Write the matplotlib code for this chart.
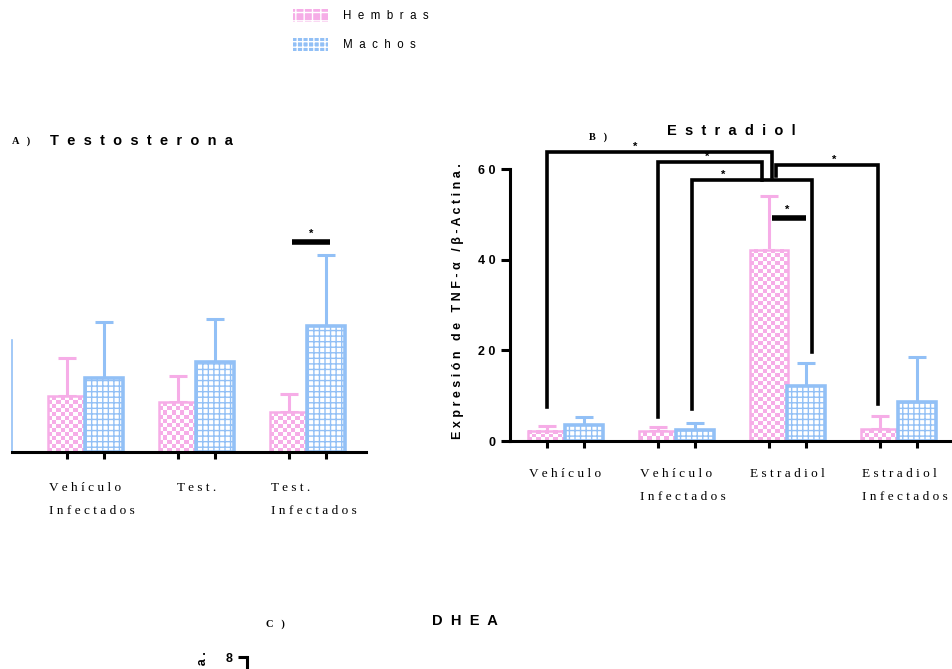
import numpy as np
import matplotlib.pyplot as plt
from matplotlib.colors import ListedColormap
from matplotlib.patches import Patch

plt.rcParams['hatch.linewidth'] = 1.0

rosa = '#F6ADE7'
azul = '#92C0F6'
sans = 'Liberation Sans'
serif = 'Liberation Serif'

# A) Testosterona
grupos_a = ['Vehículo\nInfectados', 'Test.', 'Test.\nInfectados']
hembras_a = [5.6, 5.0, 4.0]
hembras_a_err = [3.8, 2.6, 1.8]
machos_a = [7.4, 9.0, 12.6]
machos_a_err = [5.6, 4.3, 7.1]
barra_a = (1.86, 2.2, 21.0)  # x1, x2, y

# B) Estradiol
grupos_b = ['Vehículo', 'Vehículo\nInfectados', 'Estradiol', 'Estradiol\nInfectados']
hembras_b = [2.3, 2.1, 42.2, 2.6]
hembras_b_err = [1.0, 0.9, 11.8, 2.9]
machos_b = [3.5, 2.4, 12.1, 8.5]
machos_b_err = [1.7, 1.5, 5.1, 10.1]
ticks_b = [0, 20, 40, 60]
# llaves: x izq, y izq, x der, y der, altura, x del asterisco
llaves_b = [
    (-0.167, 7.5, 1.86, 58.3, 63.8, 0.63),
    (0.833, 5.3, 1.77, 57.6, 61.6, 1.28),
    (1.14, 7.1, 2.22, 19.6, 57.6, 1.42),
    (1.90, 58.5, 2.815, 8.2, 60.9, 2.42),
]
barra_b = (1.86, 2.17, 49.2)

# C) DHEA
ticks_c = [0, 2, 4, 6, 8]

etiqueta_y = 'Expresión de TNF-α /β-Actina.'


def esp(s, sep=' '):
    # separa las letras como en el original
    return '\n'.join(sep.join(linea) for linea in s.split('\n'))


def damero(ax, barras, cel=4):
    # cuadriculado rosa/blanco dentro de cada barra
    for b in barras:
        x0, w, h = b.get_x(), b.get_width(), b.get_height()
        (px0, py0), (px1, py1) = ax.transData.transform([(x0, 0), (x0 + w, h)])
        nx = max(1, int(round((px1 - px0) / cel)))
        ny = max(1, int(round((py1 - py0) / cel)))
        m = np.add.outer(np.arange(ny), np.arange(nx)) % 2
        ax.imshow(m, extent=(x0, x0 + w, 0, h), origin='lower',
                  cmap=ListedColormap([rosa, 'white']), interpolation='nearest',
                  aspect='auto', zorder=1.5)


def panel(ax, grupos, h, h_err, m, m_err, xlim, ylim, bajada):
    x = np.arange(len(grupos))
    ax.set_xlim(*xlim)
    ax.set_ylim(*ylim)
    ax.errorbar(x - 0.167, h, yerr=[np.zeros(len(h)), h_err], fmt='none',
                ecolor=rosa, elinewidth=2.2, capsize=6.5, capthick=2.2, zorder=1)
    ax.errorbar(x + 0.167, m, yerr=[np.zeros(len(m)), m_err], fmt='none',
                ecolor=azul, elinewidth=2.2, capsize=6.5, capthick=2.2, zorder=1)
    bh = ax.bar(x - 0.167, h, 0.34, facecolor='none', edgecolor=rosa, lw=1.8, zorder=2)
    ax.bar(x + 0.167, m, 0.34, facecolor='white', edgecolor=azul, hatch='+++',
           lw=2.6, zorder=2)
    damero(ax, bh)
    ax.set_xlim(*xlim)
    ax.set_ylim(*ylim)
    for s in ['top', 'right']:
        ax.spines[s].set_visible(False)
    ax.spines['bottom'].set_linewidth(2.2)
    ax.set_xticks(np.concatenate([x - 0.167, x + 0.167]))
    ax.set_xticklabels([])
    ax.tick_params(axis='x', length=5, width=2.2, direction='out')
    for i, g in enumerate(grupos):
        dx = 0.06 if '\n' in g else 0
        ax.annotate(esp(g), xy=(i + dx, 0), xytext=(0, -bajada),
                    textcoords='offset points', ha='center', va='top',
                    multialignment='left', family=serif, fontsize=9.5,
                    linespacing=2.25, annotation_clip=False)
    ax.patch.set_visible(False)


def eje_y(ax, ticks):
    ax.spines['left'].set_linewidth(2.2)
    ax.spines['left'].set_bounds(ticks[0], ticks[-1])
    ax.set_yticks(ticks)
    ax.set_yticklabels([esp(str(t)) for t in ticks], family=sans,
                       fontweight='bold', fontsize=9)
    ax.tick_params(axis='y', length=6.2, width=2.2, pad=4)


def llave(ax, x1, y1, x2, y2, top, xs):
    ax.plot([x1, x1, x2, x2], [y1, top, top, y2], color='black', lw=2.6,
            clip_on=False, solid_joinstyle='miter', zorder=4)
    ax.text(xs, top, '*', ha='center', va='bottom', fontsize=8,
            fontweight='bold', family=sans)


fig = plt.figure(figsize=(9.53, 6.69), dpi=100)
W, H = 953, 669

# A
ax_a = fig.add_axes([12 / W, (H - 452) / H, 354 / W, 240 / H])
panel(ax_a, grupos_a, hembras_a, hembras_a_err, machos_a, machos_a_err,
      (-0.662, 2.527), (0, 24), 21.5)
ax_a.spines['left'].set_color(azul)
ax_a.spines['left'].set_linewidth(1.2)
ax_a.spines['left'].set_bounds(0, 11.2)
ax_a.set_yticks([])
ax_a.plot([barra_a[0], barra_a[1]], [barra_a[2]] * 2, color='black', lw=4,
          solid_capstyle='butt', clip_on=False)
ax_a.text((barra_a[0] + barra_a[1]) / 2, barra_a[2] + 0.3, '*', ha='center',
          va='bottom', fontsize=8, fontweight='bold', family=sans)

# B
ax_b = fig.add_axes([510 / W, (H - 441) / H, 444 / W, 299 / H])
panel(ax_b, grupos_b, hembras_b, hembras_b_err, machos_b, machos_b_err,
      (-0.5, 3.5), (0, 66), 19.5)
eje_y(ax_b, ticks_b)
ax_b.text(-52 / 444, 30.8, esp(etiqueta_y), rotation=90, ha='center',
          va='center', family=sans, fontweight='bold', fontsize=9,
          transform=ax_b.get_yaxis_transform())
for x1, y1, x2, y2, top, xs in llaves_b:
    llave(ax_b, x1, y1, x2, y2, top, xs)
ax_b.plot([barra_b[0], barra_b[1]], [barra_b[2]] * 2, color='black', lw=4,
          solid_capstyle='butt', clip_on=False, zorder=4)
ax_b.text(2.0, barra_b[2] + 0.8, '*', ha='center', va='bottom', fontsize=8,
          fontweight='bold', family=sans)

# C (solo asoma la parte de arriba)
ax_c = fig.add_axes([247 / W, (H - 657) / H - 272 / H, 444 / W, 272 / H])
ax_c.set_ylim(0, 8)
ax_c.set_xlim(0, 1)
for s in ['top', 'right', 'bottom']:
    ax_c.spines[s].set_visible(False)
ax_c.set_xticks([])
eje_y(ax_c, ticks_c)
ax_c.text(-44 / 444, 4.1, esp(etiqueta_y), rotation=90, ha='center',
          va='center', family=sans, fontweight='bold', fontsize=9,
          transform=ax_c.get_yaxis_transform())
ax_c.patch.set_visible(False)

# titulos
fig.text(12 / W, 1 - 141 / H, esp('A )'), family=serif, fontweight='bold',
         fontsize=7.5, va='center')
fig.text(50 / W, 1 - 141 / H, esp('Testosterona', '  '), family=sans,
         fontweight='bold', fontsize=10.5, va='center')
fig.text(589 / W, 1 - 137 / H, esp('B )'), family=serif, fontweight='bold',
         fontsize=7.5, va='center')
fig.text(731 / W, 1 - 131 / H, esp('Estradiol', '  '), family=sans,
         fontweight='bold', fontsize=10.5, va='center', ha='center')
fig.text(266 / W, 1 - 624 / H, esp('C )'), family=serif, fontweight='bold',
         fontsize=7.5, va='center')
fig.text(465 / W, 1 - 621 / H, esp('DHEA', '  '), family=sans,
         fontweight='bold', fontsize=10.5, va='center', ha='center')

# leyenda
manejadores = [Patch(facecolor=rosa, edgecolor='white', hatch='++', lw=0),
               Patch(facecolor=azul, edgecolor='white', hatch='+++', lw=0)]
fig.legend(manejadores, [esp('Hembras', '  '), esp('Machos', '  ')],
           loc='upper left', bbox_to_anchor=(293 / W, 1 - 9 / H), frameon=False,
           borderpad=0, borderaxespad=0, handlelength=3.06, handleheight=1.3,
           labelspacing=1.4, handletextpad=1.26,
           prop={'family': sans, 'size': 8.3})

fig.savefig('out.png', dpi=100)
